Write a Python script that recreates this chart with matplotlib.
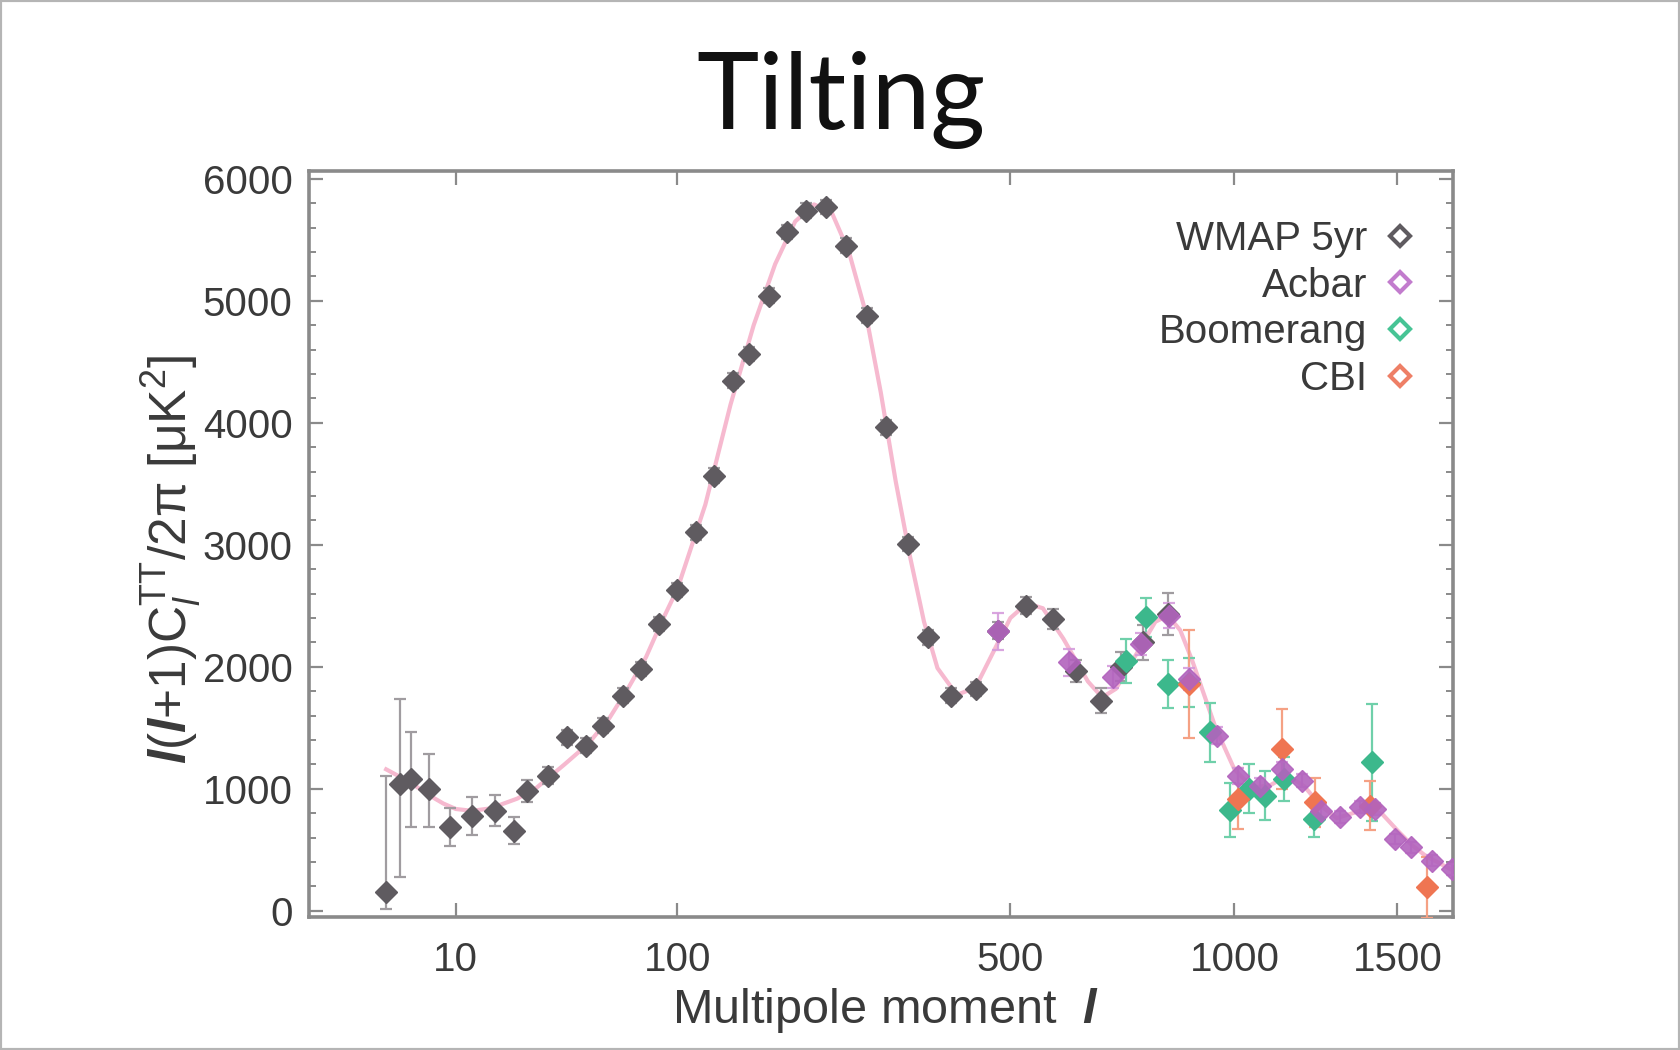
import numpy as np
import matplotlib
matplotlib.use("Agg")
import matplotlib.pyplot as plt
from matplotlib.lines import Line2D
from matplotlib.patches import Rectangle
from matplotlib.ticker import MultipleLocator

plt.rcParams.update({
    "font.family": "Liberation Sans",
    "mathtext.fontset": "custom",
    "mathtext.rm": "Liberation Sans",
    "mathtext.it": "Liberation Sans:italic",
    "mathtext.bf": "Liberation Sans:bold:italic",
})

# WMAP 5yr binned band powers
wmap_l = [2, 3, 4, 6, 9, 13, 18, 23, 27, 34, 41, 49, 57, 67, 77, 88, 100, 113, 127, 142,
          156, 174, 192, 211, 233, 256, 282, 307, 337, 366, 401, 441, 478, 529, 579, 626,
          678, 722, 772, 830]
wmap_c = [152, 1040, 1080, 998, 685, 780, 821, 657, 985, 1108, 1422, 1354, 1518, 1764, 1983,
          2351, 2630, 3103, 3567, 4346, 4565, 5043, 5563, 5740, 5768, 5453, 4879, 3964, 3007,
          2242, 1764, 1818, 2297, 2501, 2392, 1969, 1723, 2000, 2200, 2433]
wmap_lo = [140, 765, 395, 311, 155, 155, 125, 110, 90, 70, 60, 60, 60, 60, 60, 60, 60, 60, 60,
           60, 60, 60, 60, 60, 60, 60, 60, 60, 60, 60, 60, 60, 70, 70, 80, 90, 100, 120, 140, 170]
wmap_hi = [950, 700, 383, 288, 155, 155, 125, 110, 90, 70, 60, 60, 60, 60, 60, 60, 60, 60, 60,
           60, 60, 60, 60, 60, 60, 60, 60, 60, 60, 60, 60, 60, 70, 70, 80, 90, 100, 120, 140, 170]

# Acbar
acbar_l = [478, 612, 703, 767, 832, 882, 953, 1009, 1070, 1135, 1192, 1252, 1310, 1375, 1425,
           1492, 1549, 1621, 1694]
acbar_c = [2290, 2037, 1914, 2187, 2420, 1900, 1436, 1108, 1026, 1163, 1067, 821, 767, 849,
           835, 589, 521, 411, 343]
acbar_err = [150, 110, 90, 90, 100, 90, 70, 65, 60, 60, 55, 55, 50, 50, 50, 45, 45, 45, 45]

# Boomerang
boom_l = [733, 778, 830, 882, 935, 987, 1040, 1085, 1140, 1229, 1413]
boom_c = [2050, 2406, 1859, 1870, 1463, 826, 1000, 944, 1080, 756, 1218]
boom_err = [180, 160, 200, 200, 240, 220, 200, 200, 180, 150, 480]

# CBI
cbi_l = [882, 1009, 1135, 1232, 1408, 1603]
cbi_c = [1859, 917, 1327, 890, 862, 193]
cbi_err = [440, 250, 330, 200, 200, 250]

# best-fit model curve
th_l = [2, 3, 4, 6, 8, 10, 13, 17, 24, 30, 40, 50, 60, 70, 80, 90, 100, 120, 140, 160, 180,
        200, 220, 240, 260, 280, 300, 320, 340, 360, 380, 410, 440, 470, 500, 530, 560, 600,
        650, 680, 710, 760, 800, 830, 860, 890, 950, 1000, 1050, 1100, 1150, 1200, 1250,
        1300, 1350, 1400, 1450, 1500, 1550, 1600, 1700]
th_c = [1160, 1100, 1050, 950, 880, 835, 820, 840, 920, 1010, 1200, 1370, 1580, 1830, 2080,
        2380, 2640, 3330, 4150, 4800, 5300, 5650, 5790, 5720, 5400, 4920, 4250, 3520, 2900,
        2370, 1990, 1770, 1830, 2120, 2400, 2520, 2480, 2230, 1880, 1750, 1820, 2130, 2370,
        2420, 2300, 2050, 1500, 1160, 1010, 1030, 1110, 1020, 860, 760, 800, 840, 790, 660,
        540, 450, 330]

GRAY, PURPLE, GREEN, ORANGE = "#5f5b60", "#b263bd", "#3cb88c", "#ef7552"
PINK = "#f6b9cf"
FRAME = "#8a8a8a"
TXT = "#3a3a3a"

fig = plt.figure(figsize=(16.8, 10.5), dpi=100)
fig.patches.append(Rectangle((0, 0), 1, 1, transform=fig.transFigure, fill=False,
                             edgecolor="#b5b5b5", linewidth=3))
ax = fig.add_axes([0.184, 0.1267, 0.681, 0.710])
ax.set_xscale("function", functions=(lambda x: np.sign(x) * np.abs(x) ** 0.4,
                                     lambda x: np.sign(x) * np.abs(x) ** 2.5))

ax.plot(th_l, th_c, color=PINK, lw=3, zorder=2)

mk = dict(fmt="D", ms=11, capsize=4, elinewidth=1.6, capthick=1.6, zorder=3)
ax.errorbar(wmap_l, wmap_c, yerr=[wmap_lo, wmap_hi], color=GRAY, ecolor="#a09ca0", **mk)
ax.errorbar(boom_l, boom_c, yerr=boom_err, color=GREEN, ecolor="#6fd0aa", **mk)
ax.errorbar(cbi_l, cbi_c, yerr=cbi_err, color=ORANGE, ecolor="#f5a184", **mk)
ax.errorbar(acbar_l, acbar_c, yerr=acbar_err, color=PURPLE, ecolor="#d59bdc", alpha=0.9, **mk)

ax.set_xlim(0, 1700)
ax.set_ylim(-50, 6060)
ax.set_xticks([10, 100, 500, 1000, 1500])
ax.set_xticklabels(["10", "100", "500", "1000", "1500"])
ax.xaxis.set_minor_locator(matplotlib.ticker.NullLocator())
ax.set_yticks(range(0, 6001, 1000))
ax.yaxis.set_minor_locator(MultipleLocator(200))
ax.tick_params(which="both", direction="in", top=True, right=True, color=FRAME,
               labelsize=29, labelcolor=TXT)
ax.tick_params(which="major", length=10, width=1.6)
ax.tick_params(which="minor", length=5, width=1.4)
ax.tick_params(axis="x", pad=17)
ax.tick_params(axis="y", pad=12)
for s in ax.spines.values():
    s.set_color(FRAME)
    s.set_linewidth(2.6)

handles = [Line2D([], [], ls="none", marker="D", ms=10, mfc="white", mec=c, mew=3)
           for c in (GRAY, "#c27ccd", "#47c495", "#ee7f66")]
ax.legend(handles, ["WMAP 5yr", "Acbar", "Boomerang", "CBI"], loc="upper right",
          bbox_to_anchor=(0.999, 0.984), frameon=False, markerfirst=False, fontsize=29,
          labelcolor=TXT, handlelength=0.8, handletextpad=0.4, labelspacing=0.22)

fig.text(0.5006, 0.877, "Tilting", ha="center", va="baseline", fontsize=76,
         family="Lato", color="#111111")
fig.text(0.102, 0.467, r"$\mathbf{l}$($\mathbf{l}$+1)C$_{\mathit{l}}^{\mathrm{TT}}$/2π [μK$^2$]",
         rotation=90, ha="center", va="center", fontsize=37, color=TXT)
fig.text(0.527, 0.038, r"Multipole moment  $\mathbf{l}$", ha="center", va="center",
         fontsize=35, color=TXT)

fig.savefig("out.png", dpi=100, facecolor="white")
